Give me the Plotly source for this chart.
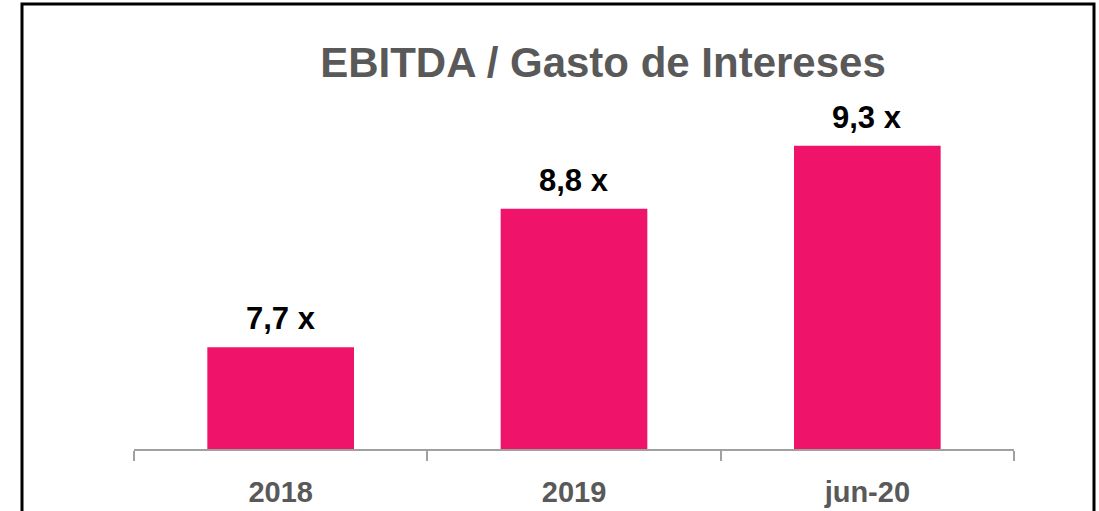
import plotly.graph_objects as go

categories = ["2018", "2019", "jun-20"]
values = [7.7, 8.8, 9.3]
labels = ["7,7 x", "8,8 x", "9,3 x"]
title_text = "EBITDA / Gasto de Intereses"

W, H = 1099, 511
ml, mr, mt, mb = 134, 85, 100, 62

fig = go.Figure()
fig.add_trace(go.Bar(
    x=categories, y=values,
    marker=dict(color="#F0136A", line=dict(width=0)),
    hoverinfo="skip",
))

for i, (v, t) in enumerate(zip(values, labels)):
    fig.add_annotation(
        x=i, y=v, xref="x", yref="y", text=t, showarrow=False,
        yanchor="bottom", yshift=9,
        font=dict(family="Liberation Sans, Arial", size=31, color="#000000", weight="bold"),
    )

pw = W - ml - mr
ph = H - mt - mb
fig.add_shape(
    type="rect", xref="paper", yref="paper",
    x0=(22 - ml) / pw, x1=(1094 - ml) / pw,
    y0=1 - (H + 10 - mt) / ph, y1=1 + (mt - 4) / ph,
    line=dict(color="#000000", width=3), fillcolor="rgba(0,0,0,0)", layer="above",
)

fig.update_layout(
    width=W, height=H,
    margin=dict(l=ml, r=mr, t=mt, b=mb, autoexpand=False),
    paper_bgcolor="white", plot_bgcolor="white",
    bargap=0.5,
    showlegend=False,
    title=dict(
        text=title_text, x=(603 - ml) / pw, xref="paper", xanchor="center",
        y=1 - 62 / H, yanchor="middle", yref="container",
        font=dict(family="Liberation Sans, Arial", size=42, color="#595959", weight="bold"),
    ),
    xaxis=dict(
        type="category", range=[-0.5, 2.5], automargin=False,
        showline=True, linecolor="#A0A0A0", linewidth=2,
        ticks="outside", tickson="boundaries", ticklen=10, tickcolor="#A0A0A0", tickwidth=2,
        ticklabelstandoff=16,
        tickfont=dict(family="Liberation Sans, Arial", size=29, color="#595959", weight="bold"),
        showgrid=False, zeroline=False,
    ),
    yaxis=dict(
        range=[6.892, 6.892 + ph / 125.9], automargin=False,
        visible=False, showgrid=False, zeroline=False,
    ),
)

fig.write_html(
    "out.html",
    config={"displayModeBar": False},
    post_script="document.body.style.margin='0';document.body.style.overflow='hidden';",
)
